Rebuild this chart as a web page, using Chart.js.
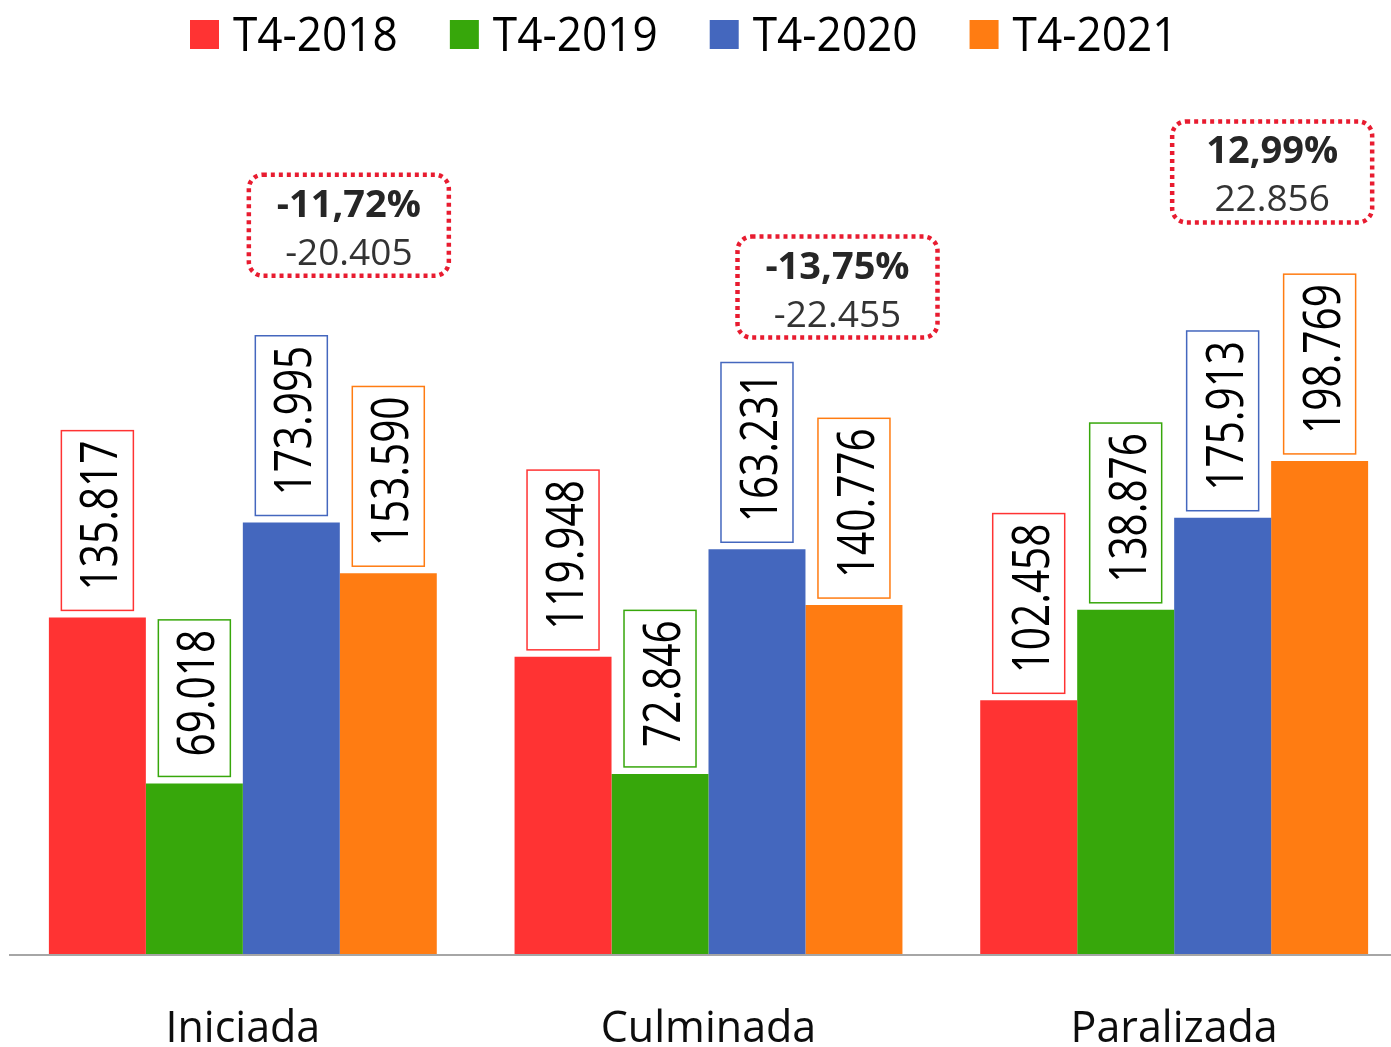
<!DOCTYPE html>
<html lang="es">
<head>
<meta charset="utf-8">
<title>T4 2018-2021</title>
<script src="https://cdn.jsdelivr.net/npm/chart.js@4.4.1/dist/chart.umd.min.js"></script>
<style>
    html, body { margin: 0; padding: 0; background: #fff; overflow: hidden; }
    #wrap { width: 1407px; height: 1047px; }
</style>
</head>
<body>
<div id="wrap"><canvas id="grafico" width="1407" height="1047"></canvas></div>
<script>
const categorias = ['Iniciada', 'Culminada', 'Paralizada'];
const series = ['T4-2018', 'T4-2019', 'T4-2020', 'T4-2021'];
const t4_2018 = [135817, 119948, 102458];
const t4_2019 = [69018, 72846, 138876];
const t4_2020 = [173995, 163231, 175913];
const t4_2021 = [153590, 140776, 198769];
const variacionPct = ['-11,72%', '-13,75%', '12,99%'];
const variacionAbs = [-20405, -22455, 22856];

const colores = ['#ff3333', '#37a70b', '#4467be', '#ff7c12'];
// desplazamiento de cada recuadro de variacion respecto a la barra T4-2021
const posVariacion = [[106, -348], [129, -318], [98, -289]];

function formatear(v) {
    const signo = v < 0 ? '-' : '';
    return signo + String(Math.abs(v)).replace(/\B(?=(\d{3})+(?!\d))/g, '.');
}

const leyenda = {
    id: 'leyenda',
    afterDraw(chart) {
        const ctx = chart.ctx;
        ctx.save();
        ctx.font = '47px "Open Sans"';
        ctx.textBaseline = 'alphabetic';
        ctx.textAlign = 'left';
        let x = 190;
        chart.data.datasets.forEach(ds => {
            ctx.fillStyle = ds.backgroundColor;
            ctx.fillRect(x, 20, 29, 29);
            const w = ctx.measureText(ds.label).width * 0.94;
            ctx.fillStyle = '#000';
            ctx.fillText(ds.label, x + 43, 51, w);
            x += 43 + w + 52;
        });
        ctx.restore();
    }
};

const etiquetas = {
    id: 'etiquetas',
    afterDatasetsDraw(chart) {
        const ctx = chart.ctx;
        chart.data.datasets.forEach((ds, i) => {
            const meta = chart.getDatasetMeta(i);
            meta.data.forEach((bar, j) => {
                const txt = formatear(ds.data[j]);
                ctx.save();
                ctx.font = '51px "Open Sans"';
                const largo = ctx.measureText(txt).width * 0.795;
                const alto = largo + 30;
                const ancho = 72;
                const base = bar.y - 7;
                const tope = base - alto;
                ctx.fillStyle = '#fff';
                ctx.fillRect(bar.x - ancho / 2, tope, ancho, alto);
                ctx.strokeStyle = ds.backgroundColor;
                ctx.lineWidth = 1.5;
                ctx.strokeRect(bar.x - ancho / 2, tope, ancho, alto);
                ctx.translate(bar.x, (tope + base) / 2);
                ctx.rotate(-Math.PI / 2);
                ctx.fillStyle = '#000';
                ctx.textAlign = 'center';
                ctx.textBaseline = 'alphabetic';
                ctx.fillText(txt, 5, 20, largo);
                ctx.restore();
            });
        });
    }
};

function cajaRedondeada(ctx, x, y, w, h, r) {
    ctx.beginPath();
    ctx.moveTo(x + r, y);
    ctx.arcTo(x + w, y, x + w, y + h, r);
    ctx.arcTo(x + w, y + h, x, y + h, r);
    ctx.arcTo(x, y + h, x, y, r);
    ctx.arcTo(x, y, x + w, y, r);
    ctx.closePath();
}

const variaciones = {
    id: 'variaciones',
    afterDraw(chart) {
        const ctx = chart.ctx;
        const metaUlt = chart.getDatasetMeta(3);
        const escalaX = chart.scales.x;
        categorias.forEach((c, j) => {
            const cx = escalaX.getPixelForValue(j) + posVariacion[j][0];
            const cy = metaUlt.data[j].y + posVariacion[j][1];
            const w = 200, h = 101;
            const x0 = cx - w / 2, y0 = cy - h / 2;
            ctx.save();
            ctx.strokeStyle = '#e81c30';
            ctx.lineWidth = 4.5;
            ctx.setLineDash([4, 4]);
            cajaRedondeada(ctx, x0, y0, w, h, 14);
            ctx.stroke();
            ctx.setLineDash([]);
            ctx.textAlign = 'center';
            ctx.textBaseline = 'alphabetic';
            ctx.fillStyle = '#262626';
            ctx.font = 'bold 38px "Open Sans"';
            ctx.fillText(variacionPct[j], cx, y0 + 42);
            ctx.fillStyle = '#333333';
            ctx.font = '37px "Open Sans"';
            ctx.fillText(formatear(variacionAbs[j]), cx, y0 + 90);
            ctx.restore();
        });
    }
};

const valores = [t4_2018, t4_2019, t4_2020, t4_2021];

Chart.defaults.font.family = '"Open Sans", sans-serif';

new Chart(document.getElementById('grafico'), {
    type: 'bar',
    data: {
        labels: categorias,
        datasets: series.map((s, i) => ({
            label: s,
            data: valores[i],
            backgroundColor: colores[i],
            borderWidth: 0,
            categoryPercentage: 0.833,
            barPercentage: 1.0
        }))
    },
    options: {
        responsive: false,
        animation: false,
        layout: {
            padding: { left: 10, top: 85, right: 0, bottom: 0 }
        },
        scales: {
            x: {
                grid: { display: false },
                border: { display: true, color: '#a6a6a6', width: 2, z: 1 },
                ticks: {
                    color: '#0d0d0d',
                    font: { size: 43 },
                    padding: 41
                },
                afterFit(scale) { scale.height = 92; }
            },
            y: {
                display: false,
                min: 0,
                max: 350000
            }
        },
        plugins: {
            legend: { display: false },
            tooltip: { enabled: false }
        }
    },
    plugins: [leyenda, etiquetas, variaciones]
});
</script>
</body>
</html>
